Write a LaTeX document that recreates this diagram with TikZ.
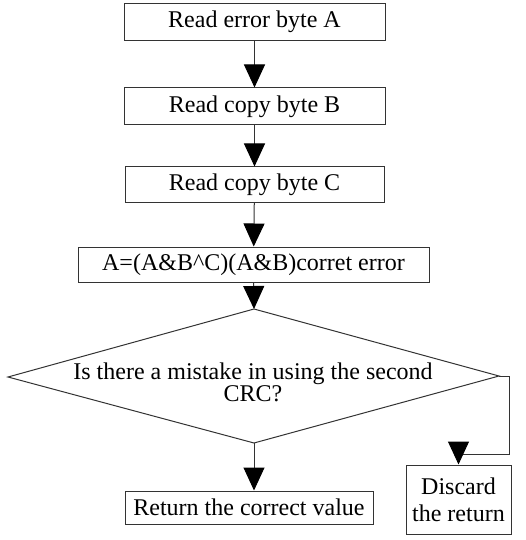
\documentclass[tikz,border=0pt]{standalone}
\usepackage{fontspec}
\setmainfont{Liberation Serif}
\usetikzlibrary{arrows.meta}
\usetikzlibrary{positioning}

\begin{document}
\begin{tikzpicture}[x=1pt,y=-1pt,
    box/.style={draw=black!80, line width=1pt, inner sep=0pt,
                font=\fontsize{24}{27}\selectfont},
    flow/.style={draw=black!80, line width=1pt,
                 -{Triangle[length=23pt,width=21pt,color=black]}}]
        \useasboundingbox (0,0) rectangle (525,540);
        % process steps
        \node[box, minimum width=261pt, minimum height=37pt] (readA) at (254.5,22) {Read error byte A};
        \node[box, minimum width=261pt, minimum height=37pt] (readB) at (254.5,106.5) {Read copy byte B};
        \node[box, minimum width=259pt, minimum height=35pt] (readC) at (254.5,184.5) {Read copy byte C};
        \node[box, minimum width=351pt, minimum height=35pt] (fix) at (253.5,264.5) {A=(A\&B\^{}C)(A\&B)corret error};
        % decision
        \coordinate (top) at (254,309);
        \coordinate (rgt) at (499,376);
        \coordinate (bot) at (254,443);
        \coordinate (lft) at (8,377);
        \draw[draw=black!80, line width=1pt] (top) -- (rgt) -- (bot) -- (lft) -- cycle;
        \node[align=center, inner sep=0pt, font=\fontsize{24}{22}\selectfont] (check) at (253,382)
              {Is there a mistake in using the second\\CRC?};
        % outcomes
        \node[box, minimum width=248pt, minimum height=33pt] (ok) at (249,507.5) {Return the correct value};
        \node[box, minimum width=105pt, minimum height=69pt, align=center] (drop) at (458.5,499.5) {Discard\\the return};
        \coordinate (turn) at (509,454);
        \draw[flow] (readA) -- (readB);
        \draw[flow] (readB) -- (readC);
        \draw[flow] (readC) -- (fix);
        \draw[flow] (fix) -- (top);
        \draw[flow] (bot) -- (bot |- ok.north);
        \draw[flow] (rgt) -| (turn) -| (drop.north);
\end{tikzpicture}
\end{document}
